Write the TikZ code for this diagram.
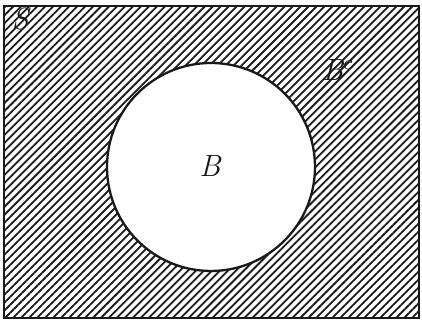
\documentclass[tikz,border=0pt]{standalone}
\usepackage{tikz}
\usetikzlibrary{patterns.meta}
\definecolor{ink}{HTML}{1A1A1A}
\tikzset{
  hatched/.style ={pattern={Lines[angle=45,distance=2.2pt,line width=0.7pt]},
                   pattern color=ink},
  frame/.style   ={draw=ink, line width=0.9pt},
  setlabel/.style={font=\large\itshape, text=ink, inner sep=1pt},
}

\begin{document}
\begin{tikzpicture}[x=0.0137cm,y=-0.0137cm]
  \useasboundingbox (0,0) rectangle (422,323);
  % universe, hatched
  \fill[hatched] (4,6) rectangle (419,318);
  \draw[frame] (4,6) rectangle (419,318);

  % the set B, left white
  \filldraw[frame, fill=white] (211,167) circle[radius=104];

  \node[setlabel] (s)  at (20,19)  {S};
  \node[setlabel] (bc) at (338,70) {B$^c$};
  \node[setlabel] (b)  at (210,166) {B};
\end{tikzpicture}
\end{document}
